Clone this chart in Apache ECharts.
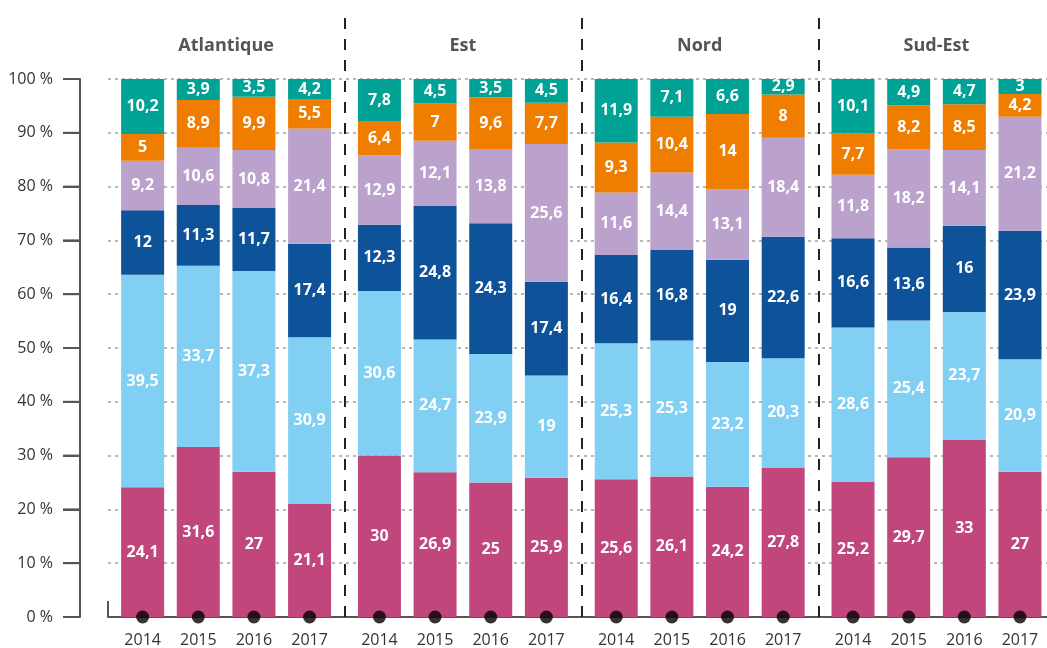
<!DOCTYPE html>
<html>
<head>
<meta charset="utf-8">
<script src="https://cdn.jsdelivr.net/npm/echarts@6/dist/echarts.min.js"></script>
<style>
  html, body { margin: 0; padding: 0; background: #fff; }
  #chart { width: 1047px; height: 648px; }
</style>
</head>
<body>
<div id="chart"></div>
<script>
// Regions (facets) and years shown in each facet
const regions = ['Atlantique', 'Est', 'Nord', 'Sud-Est'];
const years = ['2014', '2015', '2016', '2017'];
const percentTicks = [0, 10, 20, 30, 40, 50, 60, 70, 80, 90, 100];

// Stacked shares (%), bottom to top; one row of four years per region
const rose      = [[24.1, 31.6, 27, 21.1], [30, 26.9, 25, 25.9], [25.6, 26.1, 24.2, 27.8], [25.2, 29.7, 33, 27]];
const bleuClair = [[39.5, 33.7, 37.3, 30.9], [30.6, 24.7, 23.9, 19], [25.3, 25.3, 23.2, 20.3], [28.6, 25.4, 23.7, 20.9]];
const bleuFonce = [[12, 11.3, 11.7, 17.4], [12.3, 24.8, 24.3, 17.4], [16.4, 16.8, 19, 22.6], [16.6, 13.6, 16, 23.9]];
const lavande   = [[9.2, 10.6, 10.8, 21.4], [12.9, 12.1, 13.8, 25.6], [11.6, 14.4, 13.1, 18.4], [11.8, 18.2, 14.1, 21.2]];
const orange    = [[5, 8.9, 9.9, 5.5], [6.4, 7, 9.6, 7.7], [9.3, 10.4, 14, 8], [7.7, 8.2, 8.5, 4.2]];
const turquoise = [[10.2, 3.9, 3.5, 4.2], [7.8, 4.5, 3.5, 4.5], [11.9, 7.1, 6.6, 2.9], [10.1, 4.9, 4.7, 3]];
// Baseline markers under each bar
const baseline = [0, 0, 0, 0];

const layers = [
  { data: rose,      color: '#c0467c' },
  { data: bleuClair, color: '#82cff4' },
  { data: bleuFonce, color: '#0e5299' },
  { data: lavande,   color: '#bba2cd' },
  { data: orange,    color: '#ef7d00' },
  { data: turquoise, color: '#00a295' }
];

// Layout
const FONT = '"Open Sans", sans-serif';
const H = 648;
const TICK_LEFT = 63, TICK_LEN = 17;
const PLOT_LEFT = 108, PLOT_TOP = 79, PLOT_BOTTOM = 31;
const PLOT_H = H - PLOT_TOP - PLOT_BOTTOM;
const PITCH = 236.8, INSET = 6.8, PANEL_W = 222.6;
const AXIS_COLOR = '#555';
const noBounds = { outerBoundsMode: 'none' };

const grid = [], xAxis = [], yAxis = [], series = [];

// Grid 0: dotted gridlines and x baseline across all panels
grid.push({ left: PLOT_LEFT, right: 0, top: PLOT_TOP, bottom: PLOT_BOTTOM, ...noBounds });
xAxis.push({
  gridIndex: 0, type: 'value', min: 0, max: 1,
  axisLine: { show: true, onZero: false, lineStyle: { color: AXIS_COLOR, width: 2 } },
  axisTick: { show: false }, axisLabel: { show: false }, splitLine: { show: false }
});
yAxis.push({
  gridIndex: 0, type: 'value', min: 0, max: 100, interval: 10,
  axisLine: { show: false }, axisTick: { show: false }, axisLabel: { show: false },
  splitLine: { show: true, lineStyle: { color: '#a0a0a0', width: 1.5, type: [3, 4] } }
});

// Grid 1: percentage scale on the left
grid.push({ left: TICK_LEFT + TICK_LEN, width: 10, top: PLOT_TOP, bottom: PLOT_BOTTOM, ...noBounds });
xAxis.push({ gridIndex: 1, type: 'value', min: 0, max: 1, show: false });
yAxis.push({
  gridIndex: 1, type: 'value', min: 0, max: 100, interval: 10, position: 'left',
  axisLine: { show: true, onZero: false, lineStyle: { color: AXIS_COLOR, width: 2 } },
  axisTick: { show: true, length: TICK_LEN, lineStyle: { color: AXIS_COLOR, width: 2 } },
  splitLine: { show: false },
  axisLabel: {
    margin: 27, fontSize: 16, color: '#333', fontFamily: FONT,
    formatter: v => percentTicks.includes(v) ? v + ' %' : ''
  }
});

// Panels, one per region
regions.forEach((name, g) => {
  const gi = grid.length;
  grid.push({ left: PLOT_LEFT + INSET + g * PITCH, width: PANEL_W, top: PLOT_TOP, bottom: PLOT_BOTTOM, ...noBounds });
  const xBottom = xAxis.length;
  xAxis.push({
    gridIndex: gi, type: 'category', data: years,
    axisLine: { show: false }, axisTick: { show: false },
    axisLabel: { margin: 15, fontSize: 16, color: '#333', fontFamily: FONT }
  });
  xAxis.push({
    gridIndex: gi, type: 'category', position: 'top', data: [name],
    axisLine: { show: false }, axisTick: { show: false },
    axisLabel: { margin: 24, fontSize: 18, fontWeight: 'bold', color: '#555', fontFamily: FONT }
  });
  const yIdx = yAxis.length;
  yAxis.push({ gridIndex: gi, type: 'value', min: 0, max: 100, show: false, splitLine: { show: false } });

  layers.forEach(layer => {
    series.push({
      type: 'bar', xAxisIndex: xBottom, yAxisIndex: yIdx,
      stack: 'region' + g, barWidth: 43,
      data: layer.data[g],
      itemStyle: { color: layer.color },
      label: {
        show: true, position: 'inside', color: '#fff', fontWeight: 'bold',
        fontSize: 16, fontFamily: FONT,
        formatter: p => String(p.value).replace('.', ',')
      },
      z: 2
    });
  });

  series.push({
    type: 'scatter', xAxisIndex: xBottom, yAxisIndex: yIdx,
    data: baseline, symbol: 'circle', symbolSize: 13, clip: false,
    itemStyle: { color: '#000' }, z: 5, silent: true
  });
});

// Dashed separators between regions, reaching into the header band
const sepGrid = grid.length;
grid.push({ left: PLOT_LEFT, width: 4 * PITCH, top: 11, bottom: PLOT_BOTTOM, ...noBounds });
const sepX = xAxis.length;
xAxis.push({ gridIndex: sepGrid, type: 'value', min: 0, max: 4, show: false });
const sepY = yAxis.length;
yAxis.push({ gridIndex: sepGrid, type: 'value', min: 0, max: 1, show: false });
series.push({
  type: 'scatter', xAxisIndex: sepX, yAxisIndex: sepY,
  data: [[0, 0]], symbolSize: 0, silent: true,
  markLine: {
    silent: true, symbol: 'none', label: { show: false },
    lineStyle: { color: '#222', width: 2, type: [11, 10] },
    data: [{ xAxis: 1 }, { xAxis: 2 }, { xAxis: 3 }]
  },
  z: 6
});

// Spine, tick strokes and baseline upturn of the frame
const tickY = v => PLOT_TOP + (100 - v) / 100 * PLOT_H;
const strokeStyle = { stroke: AXIS_COLOR, lineWidth: 2 };
const frameMarks = percentTicks.map(v => ({
  type: 'line', z: 10, silent: true,
  shape: { x1: TICK_LEFT, y1: tickY(v), x2: TICK_LEFT + TICK_LEN, y2: tickY(v) },
  style: strokeStyle
}));
frameMarks.push({
  type: 'line', z: 10, silent: true,
  shape: { x1: TICK_LEFT + TICK_LEN, y1: tickY(100), x2: TICK_LEFT + TICK_LEN, y2: tickY(0) },
  style: strokeStyle
});
frameMarks.push({
  type: 'line', z: 10, silent: true,
  shape: { x1: PLOT_LEFT, y1: H - PLOT_BOTTOM - 16, x2: PLOT_LEFT, y2: H - PLOT_BOTTOM },
  style: strokeStyle
});

const chart = echarts.init(document.getElementById('chart'), null, { renderer: 'canvas' });
chart.setOption({
  animation: false,
  backgroundColor: '#fff',
  textStyle: { fontFamily: FONT },
  grid, xAxis, yAxis, series,
  graphic: frameMarks
});
</script>
</body>
</html>
